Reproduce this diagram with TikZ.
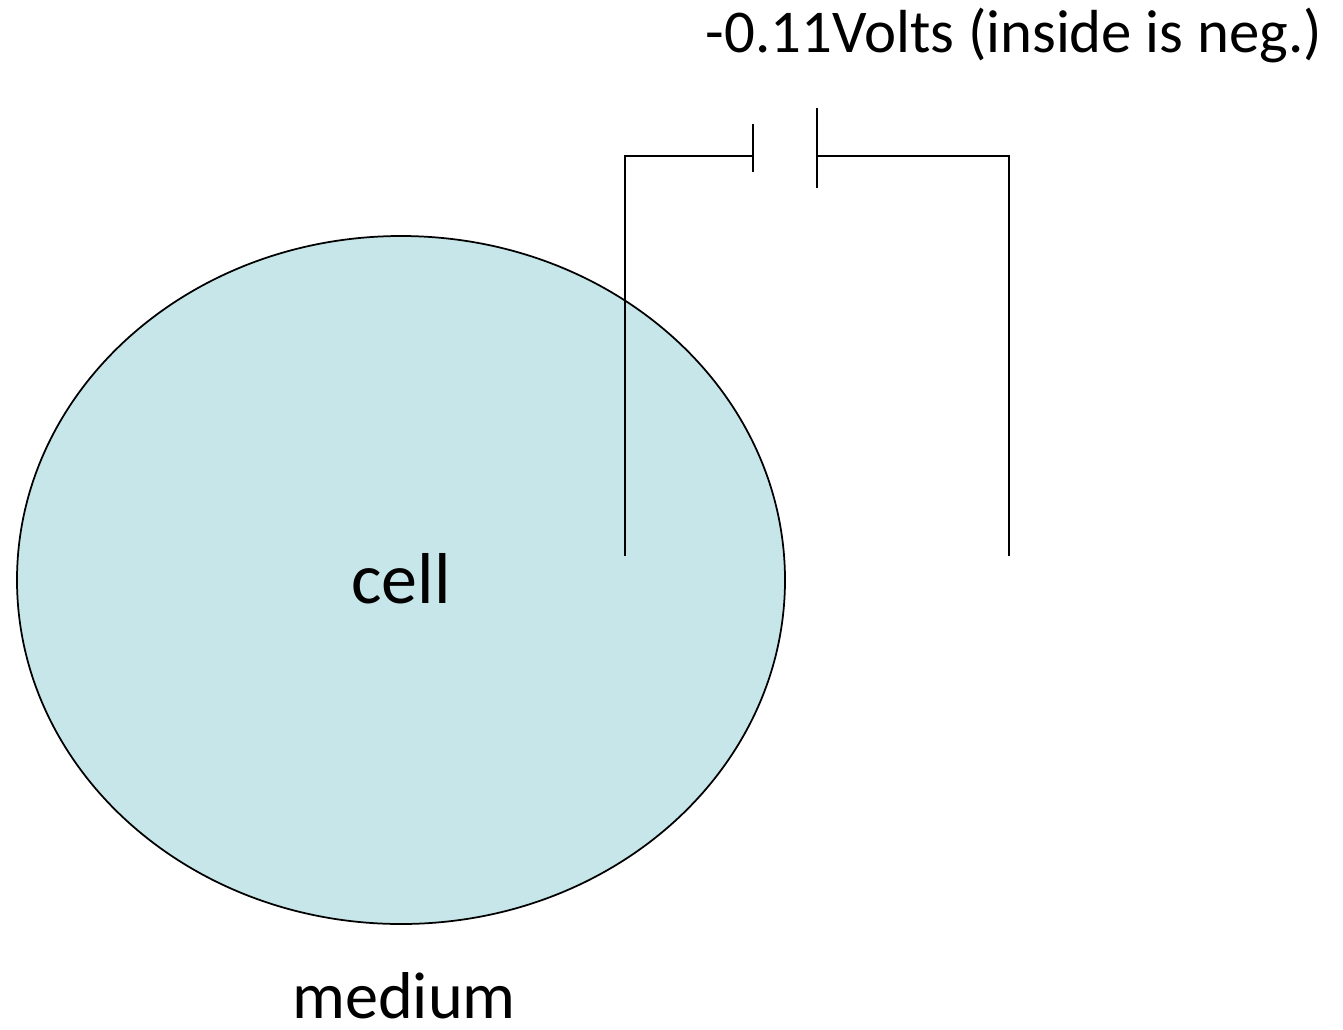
\documentclass[tikz,border=0pt]{standalone}
\usepackage{fontspec}
\setmainfont{Carlito}
\definecolor{cellfill}{HTML}{C7E6EA}
\tikzset{
	wire/.style={line width=0.035cm,black},
	label/.style={font=\fontsize{#1}{50}\selectfont,inner sep=0pt,text=black,anchor=base},
}
\begin{document}
\begin{tikzpicture}[x=0.02cm,y=-0.02cm]
	\useasboundingbox (0,0) rectangle (1343,1029);
	\draw[wire,fill=cellfill] (401,580) ellipse [x radius=384,y radius=344];
	
	\coordinate (innerend) at (625,556);
	\coordinate (innertop) at (625,156);
	\coordinate (outerend) at (1009,556);
	\coordinate (outertop) at (1009,156);
	\coordinate (shortplate) at (753,156);
	\coordinate (longplate) at (817,156);
	
	\draw[wire] (innerend) -- (innertop) -- (shortplate);
	\draw[wire] (longplate) -- (outertop) -- (outerend);
	\draw[wire] (753,124) -- (753,172);
	\draw[wire] (817,108) -- (817,188);
	
	\node[label=34.6] (voltage) at (1014,52) {-0.11Volts (inside is neg.)};
	\node[label=41] (cell) at (401,603) {cell};
	\node[label=37.7] (medium) at (404,1018) {medium};
\end{tikzpicture}
\end{document}
